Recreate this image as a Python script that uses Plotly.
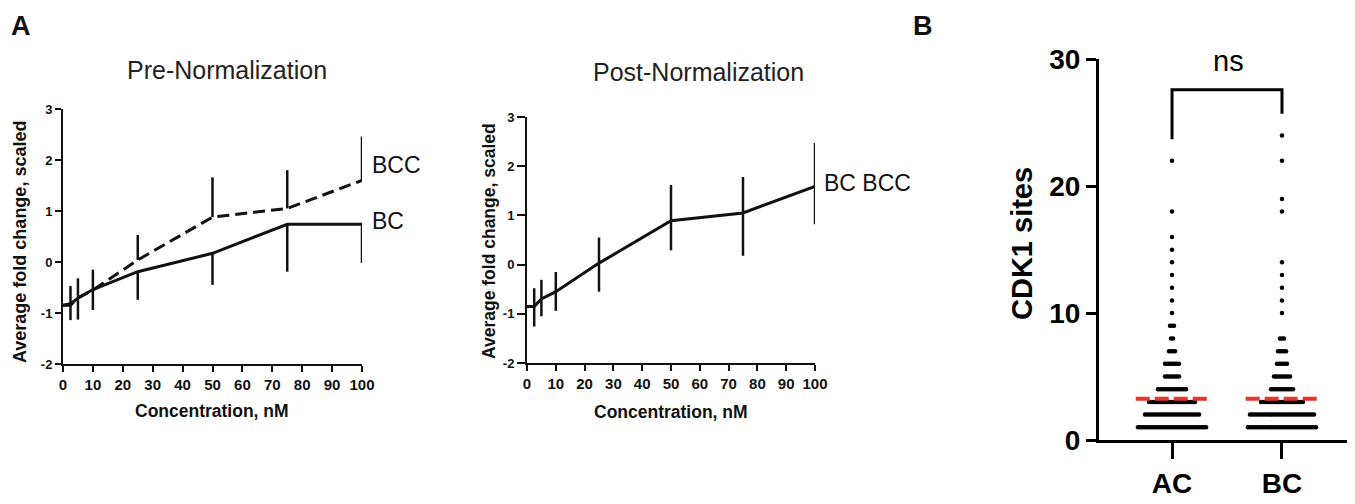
import plotly.graph_objects as go

# ---------------- data ----------------
conc = [0, 2.5, 5, 10, 25, 50, 75, 100]

# Panel A, Pre-Normalization
pre_bc_mean = [-0.85, -0.82, -0.71, -0.54, -0.19, 0.17, 0.74, 0.74]
pre_bc_err_minus = [0, 0.32, 0.42, 0.40, 0.55, 0.62, 0.93, 0.76]
pre_bcc_mean = [-0.85, -0.85, -0.70, -0.55, 0.04, 0.88, 1.05, 1.60]
pre_bcc_err_plus = [0, 0.38, 0.38, 0.40, 0.49, 0.78, 0.75, 0.86]

# Panel A, Post-Normalization (BC and BCC coincide)
post_mean = [-0.85, -0.85, -0.70, -0.55, 0.03, 0.89, 1.05, 1.59]
post_err_plus = [0, 0.37, 0.39, 0.40, 0.52, 0.73, 0.73, 0.88]
post_err_minus = [0, 0.41, 0.35, 0.39, 0.58, 0.60, 0.87, 0.77]

x_ticks = [0, 10, 20, 30, 40, 50, 60, 70, 80, 90, 100]
y_ticks_a = [-2, -1, 0, 1, 2, 3]
y_ticktext_a = ["-2", "-1", "0", "1", "2", "3"]

# Panel B: CDK1 sites, number of dots per value (as drawn)
groups = ["AC", "BC"]
ac_counts = {1: 35, 2: 28, 3: 24, 4: 15, 5: 8, 6: 8, 7: 4, 8: 2, 9: 3,
             10: 1, 11: 1, 12: 1, 13: 1, 14: 1, 15: 1, 16: 1, 18: 1, 22: 1}
bc_counts = {1: 35, 2: 33, 3: 22, 4: 12, 5: 9, 6: 6, 7: 5, 8: 3,
             10: 1, 11: 1, 12: 1, 13: 1, 14: 1, 18: 1, 19: 1, 22: 1, 24: 1}
group_means = [3.25, 3.25]
bracket_top = 27.6
bracket_left_end = 23.7
bracket_right_end = 25.7
y_ticks_b = [0, 10, 20, 30]

# ---------------- styling ----------------
OFF = 8                      # page body margin in the browser
W, H = 1355 - OFF, 504 - OFF
FONT = "Liberation Sans, Arial, sans-serif"
BLACK = "#111111"
DOT_SPACING = 0.0182
MEAN_HALF = 0.33


def px(x):
    return (x - OFF) / W


def py(y):
    return 1 - (y - OFF) / H


fig = go.Figure()

err_style = dict(thickness=2.5, width=0, color=BLACK)

# Pre-normalization
fig.add_trace(go.Scatter(
    x=conc, y=pre_bcc_mean, mode="lines", xaxis="x", yaxis="y",
    line=dict(color=BLACK, width=3, dash="12px,6px"),
    error_y=dict(type="data", symmetric=False, array=pre_bcc_err_plus,
                 arrayminus=[0] * len(conc), **err_style),
    showlegend=False))
fig.add_trace(go.Scatter(
    x=conc, y=pre_bc_mean, mode="lines", xaxis="x", yaxis="y",
    line=dict(color=BLACK, width=3),
    error_y=dict(type="data", symmetric=False, array=[0] * len(conc),
                 arrayminus=pre_bc_err_minus, **err_style),
    showlegend=False))

# Post-normalization
fig.add_trace(go.Scatter(
    x=conc, y=post_mean, mode="lines", xaxis="x2", yaxis="y2",
    line=dict(color=BLACK, width=3),
    error_y=dict(type="data", symmetric=False, array=post_err_plus,
                 arrayminus=post_err_minus, **err_style),
    showlegend=False))

# Panel B dots
for gi, counts in enumerate([ac_counts, bc_counts]):
    xs, ys = [], []
    for val, n in counts.items():
        for i in range(n):
            xs.append(gi + (i - (n - 1) / 2) * DOT_SPACING)
            ys.append(val)
    fig.add_trace(go.Scatter(
        x=xs, y=ys, mode="markers", xaxis="x3", yaxis="y3",
        marker=dict(color="black", size=4.5, line=dict(width=0)),
        showlegend=False))
    fig.add_trace(go.Scatter(
        x=[gi - MEAN_HALF, gi + MEAN_HALF], y=[group_means[gi]] * 2,
        mode="lines", xaxis="x3", yaxis="y3",
        line=dict(color="#e2372a", width=4, dash="14px,5px"),
        showlegend=False))

# significance bracket
fig.add_trace(go.Scatter(
    x=[0, 0, 1, 1], y=[bracket_left_end, bracket_top, bracket_top, bracket_right_end],
    mode="lines", xaxis="x3", yaxis="y3",
    line=dict(color="black", width=3), showlegend=False))

axis_a = dict(showline=True, linecolor=BLACK, linewidth=2, ticks="outside",
              tickcolor=BLACK, tickwidth=2, showgrid=False, zeroline=False)

fig.update_layout(
    width=W, height=H, margin=dict(l=0, r=0, t=0, b=0, autoexpand=False),
    paper_bgcolor="white", plot_bgcolor="white",
    font=dict(family=FONT, color=BLACK),
    xaxis=dict(domain=[px(63), px(362)], range=[0, 100], tickvals=x_ticks,
               ticklen=6, anchor="y",
               tickfont=dict(size=15, family=FONT, weight="bold"), **axis_a),
    yaxis=dict(domain=[py(364), py(109)], range=[-2, 3], tickvals=y_ticks_a,
               ticktext=y_ticktext_a, ticklen=6, anchor="x",
               tickfont=dict(size=13, family=FONT, weight="bold"), **axis_a),
    xaxis2=dict(domain=[px(527), px(815)], range=[0, 100], tickvals=x_ticks,
                ticklen=6, anchor="y2",
                tickfont=dict(size=15, family=FONT, weight="bold"), **axis_a),
    yaxis2=dict(domain=[py(363), py(117)], range=[-2, 3], tickvals=y_ticks_a,
                ticktext=y_ticktext_a, ticklen=8, anchor="x2",
                tickfont=dict(size=13, family=FONT, weight="bold"), **axis_a),
    xaxis3=dict(domain=[px(1099), 1.0], range=[-0.664, 1.664], tickvals=[0, 1],
                ticktext=groups, anchor="y3", showline=True, linecolor="black",
                linewidth=3, ticks="outside", ticklen=16, tickwidth=3,
                tickcolor="black", showgrid=False, zeroline=False,
                tickfont=dict(size=28, family=FONT, weight="bold", color="black")),
    yaxis3=dict(domain=[py(440), py(59.3)], range=[0, 30], tickvals=y_ticks_b,
                anchor="x3", showline=True, linecolor="black", linewidth=3,
                ticks="outside", ticklen=10, tickwidth=3, tickcolor="black",
                showgrid=False, zeroline=False,
                tickfont=dict(size=28, family=FONT, weight="bold", color="black")),
)


def ann(text, x, y, size, bold=False, xanchor="center", angle=0, color=BLACK,
        yanchor="middle"):
    fig.add_annotation(
        text=text, x=px(x), y=py(y), xref="paper", yref="paper",
        xanchor=xanchor, yanchor=yanchor, showarrow=False, textangle=angle,
        font=dict(size=size, family=FONT, color=color,
                  weight="bold" if bold else "normal"))


ann("A", 9, 9, 27, bold=True, xanchor="left", yanchor="top")
ann("B", 923, 9, 27, bold=True, yanchor="top")
ann("Pre-Normalization", 227, 70, 25, color="#222222")
ann("Post-Normalization", 698, 72, 25, color="#222222")
ann("Average fold change, scaled", 20, 242, 18, bold=True, angle=-90)
ann("Average fold change, scaled", 489, 241, 17.5, bold=True, angle=-90)
ann("Concentration, nM", 212, 411, 17.5, bold=True)
ann("Concentration, nM", 671, 412, 17.5, bold=True)
ann("BCC", 370, 165, 23, xanchor="left")
ann("BC", 370, 221, 23, xanchor="left")
ann("BC BCC", 822, 183, 23, xanchor="left")
ann("CDK1 sites", 1022, 243, 29, bold=True, angle=-90, color="black")
ann("ns", 1228, 61, 29, color="black")

fig.write_html("out.html")
